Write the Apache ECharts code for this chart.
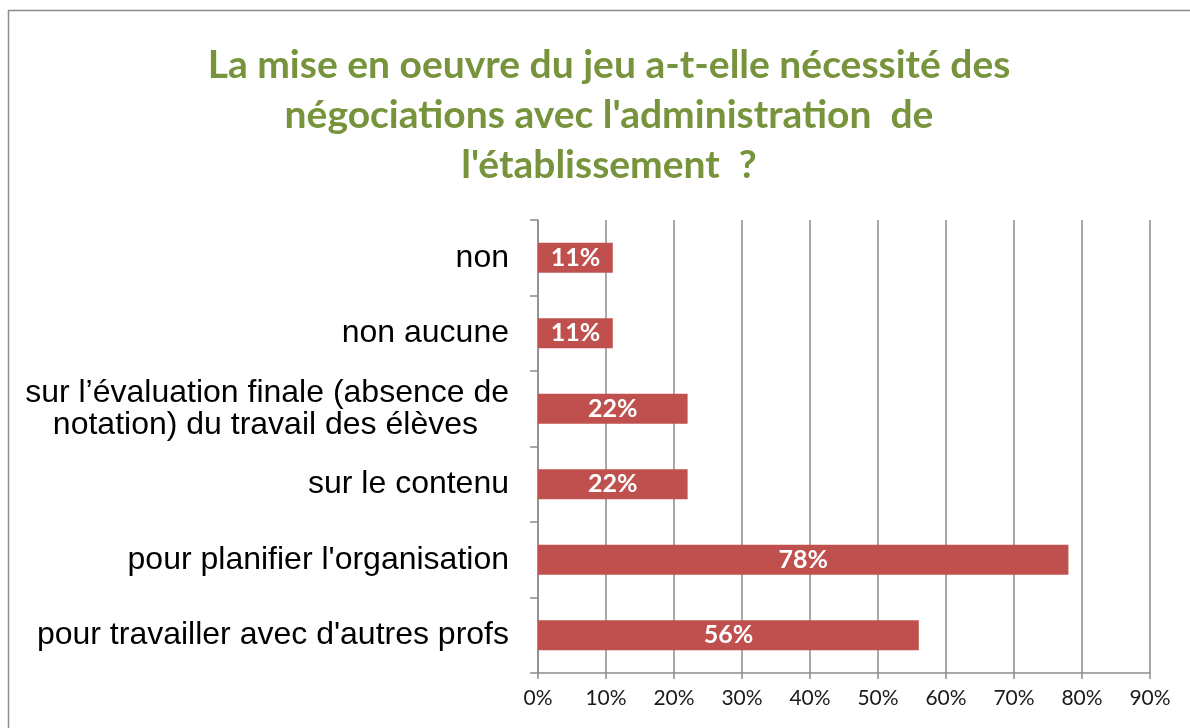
<!DOCTYPE html>
<html>
<head>
<meta charset="utf-8">
<script src="https://cdn.jsdelivr.net/npm/echarts@6/dist/echarts.min.js"></script>
<style>
  html, body { margin: 0; padding: 0; background: #fff; }
  #chart { width: 1190px; height: 728px; }
</style>
</head>
<body>
<div id="chart"></div>
<script>
// answers, top to bottom
const categories = [
  'non',
  'non aucune',
  'sur l\u2019évaluation finale (absence de\nnotation) du travail des élèves',
  'sur le contenu',
  "pour planifier l'organisation",
  "pour travailler avec d'autres profs"
]
const percentages = [11, 11, 22, 22, 78, 56]
const xTicks = [0, 10, 20, 30, 40, 50, 60, 70, 80, 90]

const titleText = "La mise en oeuvre du jeu a-t-elle nécessité des\nnégociations avec l'administration  de\nl'établissement  ?"

const chart = echarts.init(document.getElementById('chart'))

chart.setOption({
  animation: false,
  graphic: [{
    type: 'rect',
    shape: { x: 8.5, y: 10.5, width: 1300, height: 800 },
    style: { fill: 'none', stroke: '#8c8c8c', lineWidth: 1.5 },
    silent: true
  }],
  title: {
    text: titleText,
    left: 604,
    top: 35,
    textAlign: 'center',
    textStyle: {
      fontFamily: 'Lato',
      fontWeight: 'bold',
      fontSize: 39,
      lineHeight: 50,
      color: '#77933C'
    }
  },
  grid: { left: 538, right: 40, top: 220, bottom: 55, containLabel: false },
  xAxis: {
    type: 'value',
    min: xTicks[0],
    max: xTicks[xTicks.length - 1],
    interval: 10,
    axisLine: { show: true, lineStyle: { color: '#8c8c8c', width: 1.5 } },
    axisTick: { show: true, length: 6, lineStyle: { color: '#8c8c8c', width: 1.5 } },
    splitLine: { show: true, lineStyle: { color: '#8c8c8c', width: 1.5 } },
    axisLabel: {
      formatter: '{value}%',
      margin: 15,
      fontFamily: 'Lato',
      fontSize: 21,
      color: '#1a1a1a'
    }
  },
  yAxis: {
    type: 'category',
    inverse: true,
    data: categories,
    axisLine: { show: true, lineStyle: { color: '#8c8c8c', width: 1.5 } },
    axisTick: { show: true, length: 8, lineStyle: { color: '#8c8c8c', width: 1.5 } },
    axisLabel: {
      margin: 29,
      fontFamily: 'Liberation Sans',
      fontSize: 32,
      lineHeight: 32,
      color: '#000',
      formatter: function (v) {
        const parts = v.split('\n')
        if (parts.length === 1) return v
        return '{a|' + parts[0] + '}\n{b|' + parts[1] + '}'
      },
      rich: {
        a: { fontFamily: 'Liberation Sans', fontSize: 32, lineHeight: 32, color: '#000' },
        b: { fontFamily: 'Liberation Sans', fontSize: 32, lineHeight: 32, color: '#000', padding: [0, 31, 0, 0] }
      }
    }
  },
  series: [{
    type: 'bar',
    data: percentages,
    barWidth: '40%',
    itemStyle: { color: '#C0504D' },
    label: {
      show: true,
      position: 'inside',
      formatter: '{c}%',
      fontFamily: 'Lato',
      fontWeight: 'bold',
      fontSize: 25,
      color: '#fff'
    }
  }]
})
</script>
</body>
</html>
